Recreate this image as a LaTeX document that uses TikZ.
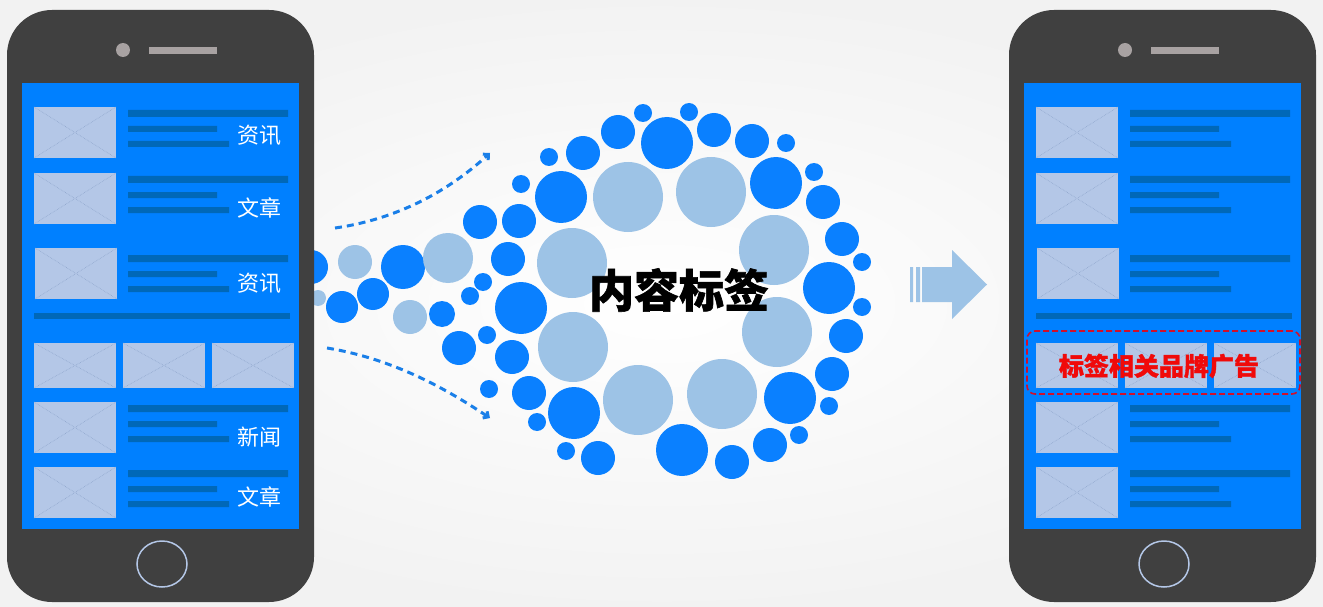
\documentclass[tikz,border=0pt]{standalone}
\usepackage{fontspec}
\newfontfamily\cjk{Noto Sans CJK SC}
\newfontfamily\cjkheavy[BoldFeatures={FakeBold=1.4}]{Noto Sans CJK SC}
\usetikzlibrary{arrows.meta}
\definecolor{phonec}{HTML}{404040}
\definecolor{scr}{HTML}{0080FF}
\definecolor{txtline}{HTML}{0068B8}
\definecolor{imgbox}{HTML}{B4C7E7}
\definecolor{xline}{HTML}{8FA5CC}
\definecolor{bubA}{HTML}{0A80FF}
\definecolor{bubB}{HTML}{9DC3E6}
\definecolor{arrowc}{HTML}{9DC3E6}
\definecolor{dashc}{HTML}{1A7FE8}
\definecolor{adred}{HTML}{F00A0A}
\definecolor{adframe}{HTML}{D0102C}
\definecolor{camc}{HTML}{A8A2A2}
\newcommand\PhImg[4]{\fill[imgbox] (#1,#2) rectangle (#3,#4);
  \draw[xline,densely dotted,line width=0.6pt] (#1,#2)--(#3,#4) (#1,#4)--(#3,#2);}
\newcommand\TxtLines[1]{\fill[txtline] (128,#1) rectangle (288,#1+7)
  (128,#1+16) rectangle (217,#1+22) (128,#1+31) rectangle (229,#1+37);}
\newcommand\PhoneFrame{%
  \fill[phonec, rounded corners=45pt] (7,10) rectangle (314,602);
  \fill[camc] (123,50) circle (7);
  \fill[camc] (149,47) rectangle (217,54);
  \fill[scr] (22,83) rectangle (299,529);
  \PhImg{34}{107}{116}{158}\TxtLines{110}
  \PhImg{34}{173}{116}{224}\TxtLines{176}
  \PhImg{35}{248}{117}{299}\TxtLines{255}
  \fill[txtline] (34,313) rectangle (290,319);
  \PhImg{34}{343}{116}{388}\PhImg{123}{343}{205}{388}\PhImg{212}{343}{294}{388}
  \PhImg{34}{402}{116}{453}\TxtLines{405}
  \PhImg{34}{467}{116}{518}\TxtLines{470}
  \draw[imgbox, line width=1.5pt] (162,564) ellipse (25 and 23);
}
\begin{document}
\begin{tikzpicture}[x=1pt,y=-1pt,
  lbl/.style={text=white, font=\cjk\fontsize{22}{22}\selectfont, inner sep=0pt},
  flow/.style={dashc, line width=3pt, dash pattern=on 7pt off 5pt,
    -{Straight Barb[length=4pt,width=8pt]}}]
\useasboundingbox (0,0) rectangle (1323,607);
\shade[inner color=white, outer color=black!5] (0,0) rectangle (1323,607);
% bubbles
\foreach \x/\y/\r/\c in {
 311/267/17/bubA, 318/298/8/bubB, 355/262/17/bubB, 342/307/16/bubA,
 373/294/16/bubA, 403/267/22/bubA, 448/258/25/bubB, 410/317/17/bubB,
 442/314/13/bubA, 480/222/17/bubA, 519/221/17/bubA, 521/184/9/bubA,
 549/157/9/bubA, 583/153/17/bubA, 561/197/26/bubA, 508/259/17/bubA,
 483/282/9/bubA, 470/296/9/bubA, 521/308/26/bubA, 572/263/35/bubB,
 573/347/35/bubB, 487/335/9/bubA, 459/348/17/bubA, 512/357/17/bubA,
 489/389/9/bubA, 529/393/17/bubA, 574/413/26/bubA, 537/422/9/bubA,
 618/132/17/bubA, 643/113/9/bubA, 667/143/26/bubA, 689/112/9/bubA,
 714/130/17/bubA, 752/141/17/bubA, 786/143/9/bubA, 776/183/26/bubA,
 814/172/9/bubA, 823/202/17/bubA, 842/239/17/bubA, 862/262/9/bubA,
 829/288/26/bubA, 862/307/9/bubA, 846/336/17/bubA, 832/374/17/bubA,
 829/406/9/bubA, 790/398/26/bubA, 799/435/9/bubA, 770/445/17/bubA,
 732/462/17/bubA, 682/450/26/bubA, 598/458/17/bubA, 566/451/9/bubA,
 628/197/35/bubB, 711/192/35/bubB, 774/250/35/bubB, 777/332/35/bubB,
 638/400/35/bubB, 722/394/35/bubB}
 { \fill[\c] (\x,\y) circle (\r); }
% dashed flows
\coordinate (ua) at (335,228); \coordinate (ub) at (490,153);
\coordinate (la) at (327,348); \coordinate (lb) at (490,418);
\draw[flow] (ua) .. controls (405,218) and (455,185) .. (ub);
\draw[flow] (la) .. controls (400,360) and (455,395) .. (lb);
% phones
\begin{scope}\PhoneFrame\end{scope}
\begin{scope}[xshift=1002pt]\PhoneFrame\end{scope}
% labels left phone
\node[lbl] (l1) at (259,135) {资讯};
\node[lbl] (l2) at (259,208) {文章};
\node[lbl] (l3) at (259,283) {资讯};
\node[lbl] (l4) at (259,437) {新闻};
\node[lbl] (l5) at (259,497) {文章};
% title
\node[font=\cjkheavy\bfseries\fontsize{45}{45}\selectfont, inner sep=0pt] (title) at (679,290) {内容标签};
% big arrow
\fill[arrowc] (910,267) rectangle (913,302) (916,267) rectangle (920,302)
  (922,267) -- (952,267) -- (952,250) -- (987,284.5) -- (952,319) -- (952,302) -- (922,302) -- cycle;
% ad
\node[draw=adframe, dash pattern=on 6pt off 3pt, line width=1.6pt, rounded corners=8pt,
  minimum width=273pt, minimum height=63pt, inner sep=0pt] (adbox) at (1163.5,362.5) {};
\node[text=adred, font=\cjkheavy\bfseries\fontsize{25}{25}\selectfont, inner sep=0pt] (ad) at (1159,366) {标签相关品牌广告};
\end{tikzpicture}
\end{document}
